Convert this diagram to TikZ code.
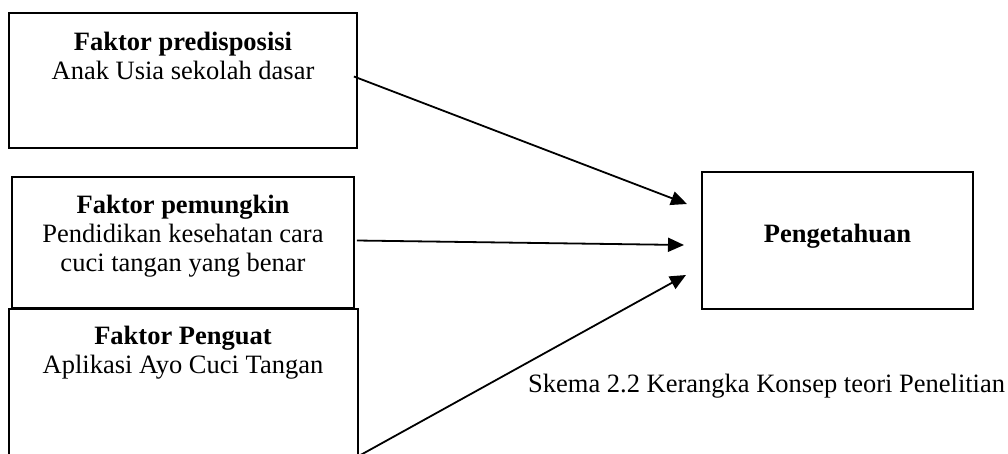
\documentclass[tikz,border=0pt]{standalone}
\usepackage{fontspec}
\setmainfont{Liberation Serif}
\usepackage{tikz}
\usetikzlibrary{arrows.meta}

\begin{document}
\begin{tikzpicture}[x=1pt,y=-1pt,
	kotak/.style={draw,line width=1.8pt,inner sep=0pt},
	teks/.style={anchor=base,inner sep=0pt,font=\fontsize{26.5}{29.2}\selectfont},
	judul/.style={teks,font=\fontsize{26.5}{29.2}\selectfont\bfseries},
	panah/.style={line width=1.8pt,-{Triangle[length=16pt,width=14pt]}}]
	\useasboundingbox (0,0) rectangle (1008,453);
	
	\node[kotak,minimum width=348pt,minimum height=135pt] (k1) at (183,80.5) {};
	\node[kotak,minimum width=342pt,minimum height=131pt] (k2) at (183,242.5) {};
	\node[kotak,fill=white,minimum width=349pt,minimum height=146pt] (k3) at (183.5,382) {};
	\node[kotak,minimum width=271pt,minimum height=137pt] (hasil) at (837.5,240.5) {};
	
	\node[judul] (j1) at (183,50) {Faktor predisposisi};
	\node[teks] (i1) at (183,79) {Anak Usia sekolah dasar};
	
	\node[judul] (j2) at (183,213) {Faktor pemungkin};
	\node[teks] (i2a) at (183,242.2) {Pendidikan kesehatan cara};
	\node[teks] (i2b) at (183,271.4) {cuci tangan yang benar};
	
	\node[judul] (j3) at (183,344) {Faktor Penguat};
	\node[teks] (i3) at (183,373) {Aplikasi Ayo Cuci Tangan};
	
	\node[judul] (h) at (837.5,242) {Pengetahuan};
	
	\node[teks,anchor=base west] (skema) at (528,392) {Skema 2.2 Kerangka Konsep teori Penelitian};
	
	\coordinate (t1) at (687,204);
	\coordinate (t2) at (684,245);
	\coordinate (t3) at (686,275);
	
	\draw[panah] ([xshift=-4pt,yshift=4pt]k1.east) -- (t1);
	\draw[panah] ([xshift=2pt,yshift=2pt]k2.east) -- (t2);
	\draw[panah] (k3.south east) -- (t3);
\end{tikzpicture}
\end{document}
